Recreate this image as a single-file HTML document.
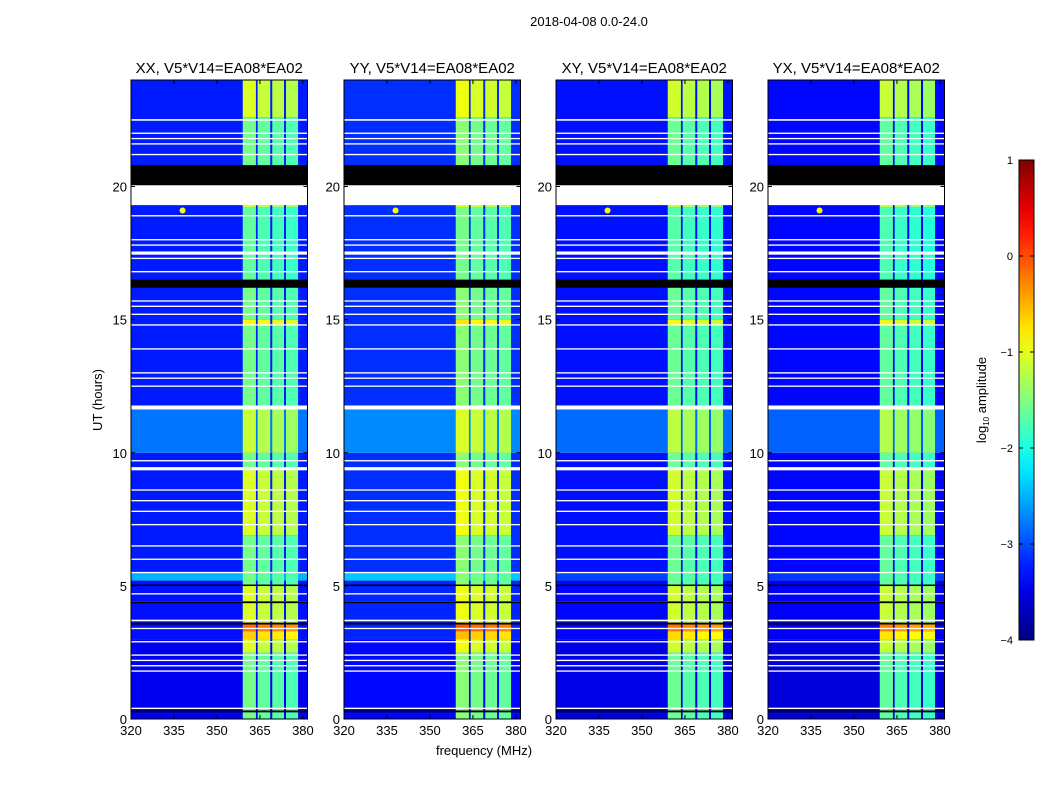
<!DOCTYPE html>
<html><head><meta charset="utf-8"><style>
body{margin:0;background:#fff;}
svg{display:block;font-family:"Liberation Sans",sans-serif;}
</style></head><body>
<svg id="fig" width="1050" height="800" xmlns="http://www.w3.org/2000/svg">
<rect width="1050" height="800" fill="#fff"/>
<text x="589" y="26" font-size="13" text-anchor="middle">2018-04-08 0.0-24.0</text>
<text transform="translate(102,400) rotate(-90)" font-size="13" text-anchor="middle">UT (hours)</text>
<text x="484" y="755" font-size="13" text-anchor="middle">frequency (MHz)</text>
<g id="panels"></g>
<g id="cbar"></g>
</svg>
<script>
// ---- data ----
const panelTitles=["XX, V5*V14=EA08*EA02","YY, V5*V14=EA08*EA02","XY, V5*V14=EA08*EA02","YX, V5*V14=EA08*EA02"];
const panelOffsets=[0,0.1,-0.05,-0.1];
const xTicks=[320,335,350,365,380];
const yTicks=[0,5,10,15,20];
const cbTicks=[1,0,-1,-2,-3,-4];
// band segments: [startHour,endHour,log10 level]
const bandSegments=[[0,2.5,-1.7],[2.5,3.0,-1.2],[3.0,3.3,-0.8],[3.3,3.6,-0.3],[3.6,5.0,-1.2],[5.0,6.9,-1.7],[6.9,9.4,-1.2],[9.4,10,-1.7],[10,11.7,-1.3],[11.7,14.8,-1.7],[14.8,15.0,-1.0],[15.0,16.2,-1.7],[16.5,19.2,-1.8],[19.2,19.4,-1.3],[20.8,22.6,-1.7],[22.6,24,-1.2]];
// background segments: [startHour,endHour,level]
const bgSegments=[[0,3,-3.45],[3,5.2,-3.3],[5.2,5.5,-2.5],[5.5,10,-3.25],[10,11.7,-2.8],[11.7,24,-3.25]];
// sub-bands [fStart,fEnd,levelOffset]
const subBands=[[359,363.6,0.15],[364.2,368.6,0.05],[369.3,373.4,0],[374.1,378.3,-0.05]];
// flagged (white) rows [hour,thickness h]
const whiteRows=[[22.5,0.06],[22.0,0.05],[21.8,0.05],[21.6,0.05],[21.2,0.05],[18.9,0.05],[18.0,0.05],[17.8,0.05],[17.5,0.12],[17.3,0.05],[16.8,0.05],[15.7,0.05],[15.5,0.05],[15.2,0.05],[14.8,0.05],[13.9,0.05],[13.0,0.05],[12.8,0.05],[12.5,0.05],[11.7,0.15],[9.7,0.05],[9.4,0.12],[8.6,0.05],[8.2,0.05],[7.8,0.05],[7.3,0.05],[6.5,0.05],[6.0,0.05],[5.5,0.05],[4.7,0.05],[4.4,0.05],[3.7,0.06],[3.4,0.05],[2.9,0.05],[2.4,0.05],[2.2,0.05],[2.0,0.05],[1.8,0.05],[0.4,0.05]];
const whiteBlocks=[[19.3,20.05]];
const blackBlocks=[[20.05,20.8],[16.2,16.5],[5.0,5.05],[4.35,4.42],[3.55,3.62],[0.25,0.32]];
const xMin=320,xMax=381.6,yMin=0,yMax=24;
const panelLefts=[131,344,556,768];
const pw=176.5,pTop=80,pBot=719;

function jet(v){let t=Math.max(0,Math.min(1,(v+4)/5));
 const r=Math.max(0,Math.min(1,1.5-Math.abs(4*t-3))),g=Math.max(0,Math.min(1,1.5-Math.abs(4*t-2))),b=Math.max(0,Math.min(1,1.5-Math.abs(4*t-1)));
 return `rgb(${Math.round(r*255)},${Math.round(g*255)},${Math.round(b*255)})`;}
const NS="http://www.w3.org/2000/svg";
function el(tag,attrs,parent){const e=document.createElementNS(NS,tag);for(const k in attrs)e.setAttribute(k,attrs[k]);parent.appendChild(e);return e;}
const root=document.getElementById('panels');
panelLefts.forEach((L,pi)=>{
 const xs=f=>L+(f-xMin)/(xMax-xMin)*pw;
 const ys=h=>pBot-(h-yMin)/(yMax-yMin)*(pBot-pTop);
 const g=el('g',{},root);
 
 
 bgSegments.forEach(s=>{let lv=s[2];if(pi>=2&&s[2]>-2.6)lv=s[2]-0.5;
  const r=el('rect',{x:L,y:ys(s[1]),width:pw,height:ys(s[0])-ys(s[1]),fill:jet(lv+panelOffsets[pi])},g);
  });
 bandSegments.forEach(s=>subBands.forEach(b=>{
  const r=el('rect',{x:xs(b[0]),y:ys(s[1]),width:xs(b[1])-xs(b[0]),height:ys(s[0])-ys(s[1]),fill:jet(s[2]+b[2]+panelOffsets[pi])},g);
  }));
 const sp=el('circle',{cx:xs(338),cy:ys(19.1),r:3,fill:jet(-0.9)},g);
 
 whiteRows.forEach(w=>{const r=el('rect',{x:L,y:ys(w[0]+w[1]/2),width:pw,height:Math.max(1.2,ys(w[0]-w[1]/2)-ys(w[0]+w[1]/2)),fill:'#fff'},g);
  });
 whiteBlocks.forEach(w=>{const r=el('rect',{x:L,y:ys(w[1]),width:pw,height:ys(w[0])-ys(w[1]),fill:'#fff'},g);
  });
 blackBlocks.forEach(w=>{const r=el('rect',{x:L,y:ys(w[1]),width:pw,height:Math.max(1.5,ys(w[0])-ys(w[1])),fill:'#000'},g);
  });
 const fr=el('rect',{x:L,y:pTop,width:pw,height:pBot-pTop,fill:'none',stroke:'#000','stroke-width':1},g);
 
 xTicks.forEach(t=>{const x=xs(t);el('line',{x1:x,x2:x,y1:pBot,y2:pBot-4,stroke:'#000'},g);el('line',{x1:x,x2:x,y1:pTop,y2:pTop+4,stroke:'#000'},g);
  const tx=el('text',{x:x,y:pBot+16,'font-size':13,'text-anchor':'middle'},g);tx.textContent=t;
  });
 yTicks.forEach(t=>{const y=ys(t);el('line',{x1:L,x2:L+4,y1:y,y2:y,stroke:'#000'},g);el('line',{x1:L+pw,x2:L+pw-4,y1:y,y2:y,stroke:'#000'},g);
  const tx=el('text',{x:L-4,y:y+5,'font-size':13,'text-anchor':'end'},g);tx.textContent=t;
  });
 const tt=el('text',{x:L+pw/2,y:73,'font-size':15,'text-anchor':'middle'},g);tt.textContent=panelTitles[pi];
 
});
// colorbar
const cb=document.getElementById('cbar');const cx=1019,cw=15,cT=160,cB=640;
const cys=v=>cB-(v+4)/5*(cB-cT);
const defs=el('defs',{},cb);const lg=el('linearGradient',{id:'jetg',x1:0,y1:1,x2:0,y2:0},defs);
for(let i=0;i<=20;i++){el('stop',{offset:i/20,'stop-color':jet(-4+5*i/20)},lg);}
el('rect',{x:cx,y:cT,width:cw,height:cB-cT,fill:'url(#jetg)',stroke:'#000'},cb);
cbTicks.forEach(t=>{const y=cys(t);el('line',{x1:cx,x2:cx+4,y1:y,y2:y,stroke:'#000'},cb);el('line',{x1:cx+cw,x2:cx+cw-4,y1:y,y2:y,stroke:'#000'},cb);
 const tx=el('text',{x:1013,y:y+4,'font-size':11,'text-anchor':'end'},cb);tx.textContent=(t<0?'\u2212'+(-t):t);
 });
const cl=el('text',{transform:'translate(986,400) rotate(-90)','font-size':13,'text-anchor':'middle'},cb);
cl.innerHTML='log<tspan font-size="8" dy="3">10</tspan><tspan dy="-3"> amplitude</tspan>';

</script>
</body></html>
